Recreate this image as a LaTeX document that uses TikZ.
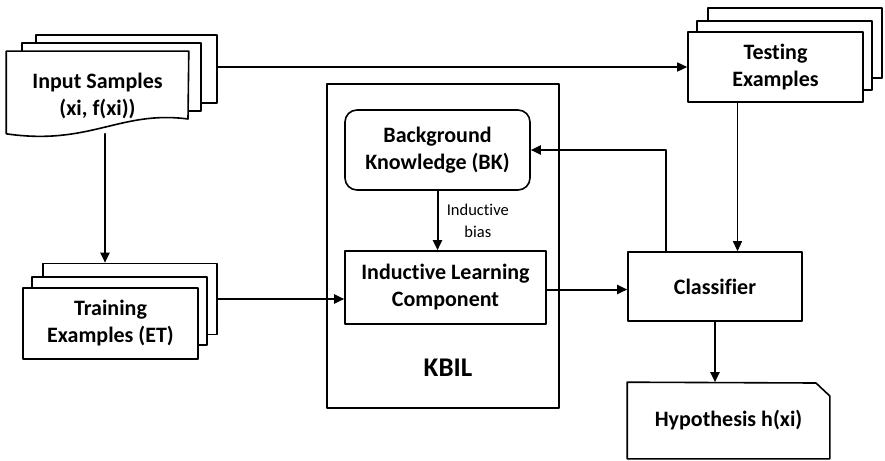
\documentclass[tikz,border=0pt]{standalone}
\usepackage{fontspec}
\setmainfont{Carlito}[Ligatures=NoCommon]
\usetikzlibrary{arrows.meta}
\begin{document}
\begin{tikzpicture}[
    x=1pt,y=-1pt,
    line cap=round,line join=round,
    page/.style={draw=black,fill=white,line width=1.6pt,inner sep=0pt},
    box/.style={page,align=center,font=\bfseries\fontsize{22}{27}\selectfont},
    arrow/.style={line width=2pt,-{Triangle[length=10pt,width=9pt]}},
    thin arrow/.style={line width=1.1pt,-{Triangle[length=10pt,width=9pt]}}
]
    \useasboundingbox (0,0) rectangle (885,460);
    % input samples
    \node[page,minimum width=181,minimum height=68] (samplesback) at (126.5,69) {};
    \node[page,minimum width=179,minimum height=68] (samplesmid) at (111.5,77) {};
    \node[box,draw=none,fill=none,minimum width=181,minimum height=81] (samples) at (97.5,92.5) {};
    \draw[page] (samples.north west) -- (samples.north east) -- (188,119)
        .. controls (120,110) and (90,146) .. (samples.south west) -- cycle;
    \node[box,draw=none,fill=none] at ([yshift=-3pt]samples) {Input Samples\\(xi, f(xi))};
    % training examples
    \node[page,minimum width=174,minimum height=71] (trainback) at (130,299) {};
    \node[page,minimum width=175,minimum height=68] (trainmid) at (119.5,311) {};
    \node[box,minimum width=175,minimum height=71] (train) at (110.5,323.5)
        {Training\\Examples (ET)};
    % testing examples
    \node[page,minimum width=174,minimum height=70] (testback) at (795,43) {};
    \node[page,minimum width=175,minimum height=69] (testmid) at (784.5,55.5) {};
    \node[box,minimum width=175,minimum height=70] (test) at (775.5,67)
        {Testing\\Examples};
    % KBIL
    \node[page,minimum width=232,minimum height=324] (kbil) at (443,246) {};
    \node[font=\bfseries\fontsize{27}{30}\selectfont] (kbiltext) at (448,368) {KBIL};
    \node[box,rounded corners=12pt,minimum width=185,minimum height=80] (bk) at (437.5,150)
        {Background\\Knowledge (BK)};
    \node[box,minimum width=201,minimum height=73] (ilc) at (445.5,287.5)
        {Inductive Learning\\Component};
    % classifier and hypothesis
    \node[box,minimum width=174,minimum height=69] (classifier) at (715,286.5) {Classifier};
    \node[box,draw=none,fill=none,minimum width=201,minimum height=75] (hypo) at (728.5,420.5)
        {Hypothesis h(xi)};
    \draw[page,fill=none] (hypo.north west) -- (816,383) -- (hypo.north east |- 0,396)
        -- (hypo.south east) -- (hypo.south west) -- cycle;
    % connectors
    \draw[thin arrow,line width=1.5pt] (samplesback.east |- test.west) -- (test.west);
    \draw[arrow] ([xshift=7.5pt]samples.south) -- ([xshift=7.5pt]samples.south |- trainback.north);
    \draw[arrow] (trainback.east) -- (trainback.east -| ilc.west);
    \draw[arrow] (bk.south) -- (bk.south |- ilc.north)
        node[midway,right=5pt,align=center,font=\fontsize{16.5}{22}\selectfont] {Inductive\\bias};
    \draw[arrow] ([yshift=-2pt]ilc.east) -- ([yshift=-2pt]ilc.east -| classifier.west);
    \draw[thin arrow] ([xshift=-38pt]test.south) -- ([xshift=-38pt]test.south |- classifier.north);
    \draw[arrow] ([xshift=-49pt]classifier.north) |- (bk.east);
    \draw[arrow] (classifier.south) -- (classifier.south |- hypo.north);
\end{tikzpicture}
\end{document}
